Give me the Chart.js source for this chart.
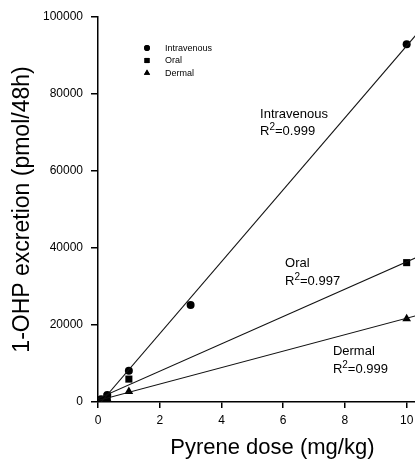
<!DOCTYPE html>
<html>
<head>
<meta charset="utf-8">
<script src="https://cdn.jsdelivr.net/npm/chart.js@4/dist/chart.umd.min.js"></script>
<style>
  html, body { margin: 0; padding: 0; background: #fff; }
  #wrap { width: 415px; height: 463px; }
</style>
</head>
<body>
<div id="wrap"><canvas id="c" width="415" height="463"></canvas></div>
<script>
// measured points (dose in mg/kg, excretion in pmol/48h)
var ivDose = [0.1, 0.3, 1, 3, 10];
var ivExcr = [700, 1800, 8100, 25200, 92900];
var oralDose = [0.1, 0.3, 1, 10];
var oralExcr = [500, 1400, 5950, 36200];
var dermDose = [0.1, 0.3, 1, 10];
var dermExcr = [300, 800, 2700, 21600];

// regression line end points
var ivFitX = [0.1, 10.3];
var ivFitY = [0, 95300];
var oralFitX = [0, 10.3];
var oralFitY = [900, 37500];
var dermFitX = [0, 10.3];
var dermFitY = [400, 22400];

var xTicks = [0, 2, 4, 6, 8, 10];
var yTicks = [0, 20000, 40000, 60000, 80000, 100000];

var groups = ["Intravenous", "Oral", "Dermal"];
var r2 = ["0.999", "0.997", "0.999"];

var FONT = '"Liberation Sans", Arial, sans-serif';

function pts(xs, ys) {
  return xs.map(function (v, i) { return { x: v, y: ys[i] }; });
}

var markers = [
  { style: "circle", radius: 4 },
  { style: "rect", radius: 5 },
  { style: "triangle", radius: 5 }
];

function markerSet(label, xs, ys, m) {
  return {
    label: label,
    data: pts(xs, ys),
    pointStyle: m.style,
    pointRadius: m.radius,
    pointHoverRadius: m.radius,
    pointBackgroundColor: "#000",
    pointBorderColor: "#000",
    pointBorderWidth: 0,
    showLine: false
  };
}

function fitSet(xs, ys) {
  return {
    label: "",
    data: pts(xs, ys),
    showLine: true,
    borderColor: "#111",
    borderWidth: 1.1,
    pointRadius: 0,
    pointHoverRadius: 0,
    fill: false
  };
}

// where the text notes sit, in data units
var notes = [
  { x: 5.25, y1: 73800, y2: 69350 },
  { x: 6.06, y1: 35140, y2: 30390 },
  { x: 7.61, y1: 12210, y2: 7530 }
];

var textPlugin = {
  id: "texts",
  afterDraw: function (chart) {
    var ctx = chart.ctx, xs = chart.scales.x, ys = chart.scales.y, a = chart.chartArea;
    ctx.save();
    ctx.fillStyle = "#000";

    // legend
    ctx.font = "9px " + FONT;
    ctx.textBaseline = "middle";
    ctx.textAlign = "left";
    for (var i = 0; i < groups.length; i++) {
      var lx = a.left + 49, ly = a.top + 31 + i * 12.5;
      Chart.helpers.drawPoint(ctx, {
        pointStyle: markers[i].style,
        radius: markers[i].radius * 0.72,
        borderWidth: 0
      }, lx, ly);
      ctx.fill();
      ctx.fillText(groups[i], lx + 18, ly + 0.5);
    }

    // regression notes
    ctx.textBaseline = "alphabetic";
    for (var j = 0; j < notes.length; j++) {
      var px = xs.getPixelForValue(notes[j].x);
      ctx.font = "13px " + FONT;
      ctx.fillText(groups[j], px, ys.getPixelForValue(notes[j].y1));
      var by = ys.getPixelForValue(notes[j].y2);
      ctx.fillText("R", px, by);
      var w = ctx.measureText("R").width;
      ctx.font = "10px " + FONT;
      ctx.fillText("2", px + w, by - 5);
      var w2 = ctx.measureText("2").width;
      ctx.font = "13px " + FONT;
      ctx.fillText("=" + r2[j], px + w + w2, by);
    }

    // x axis title
    ctx.font = "22px " + FONT;
    ctx.textAlign = "center";
    ctx.textBaseline = "middle";
    ctx.fillText("Pyrene dose (mg/kg)", xs.getPixelForValue(5.65), a.bottom + 46);
    ctx.restore();
  }
};

new Chart(document.getElementById("c"), {
  type: "scatter",
  data: {
    datasets: [
      fitSet(ivFitX, ivFitY),
      fitSet(oralFitX, oralFitY),
      fitSet(dermFitX, dermFitY),
      markerSet(groups[0], ivDose, ivExcr, markers[0]),
      markerSet(groups[1], oralDose, oralExcr, markers[1]),
      markerSet(groups[2], dermDose, dermExcr, markers[2])
    ]
  },
  options: {
    responsive: false,
    animation: false,
    events: [],
    layout: { autoPadding: false, padding: { top: 17, right: -5, left: 0, bottom: 0 } },
    plugins: {
      legend: { display: false },
      tooltip: { enabled: false }
    },
    scales: {
      x: {
        type: "linear",
        min: 0,
        max: 10.27,
        afterBuildTicks: function (s) { s.ticks = xTicks.map(function (v) { return { value: v }; }); },
        afterFit: function (s) { s.height = 61; s.paddingRight = 0; s.paddingLeft = 0; },
        grid: { display: true, drawOnChartArea: false, drawTicks: true, tickLength: 6, color: "#000", lineWidth: 1.5 },
        border: { display: true, color: "#000", width: 1.5 },
        ticks: { color: "#000", font: { family: FONT, size: 12 }, padding: 5, maxRotation: 0 },
        title: { display: false }
      },
      y: {
        type: "linear",
        min: 0,
        max: 100000,
        afterBuildTicks: function (s) { s.ticks = yTicks.map(function (v) { return { value: v }; }); },
        afterFit: function (s) { s.width = 98; },
        grid: { display: true, drawOnChartArea: false, drawTicks: true, tickLength: 7, color: "#000", lineWidth: 1.5 },
        border: { display: true, color: "#000", width: 1.5 },
        ticks: { color: "#000", font: { family: FONT, size: 12 }, padding: 8, callback: function (v) { return String(v); } },
        title: {
          display: true,
          text: "1-OHP excretion (pmol/48h)",
          color: "#000",
          font: { family: FONT, size: 23 },
          padding: { top: 9, bottom: 0 }
        }
      }
    }
  },
  plugins: [textPlugin]
});
</script>
</body>
</html>
